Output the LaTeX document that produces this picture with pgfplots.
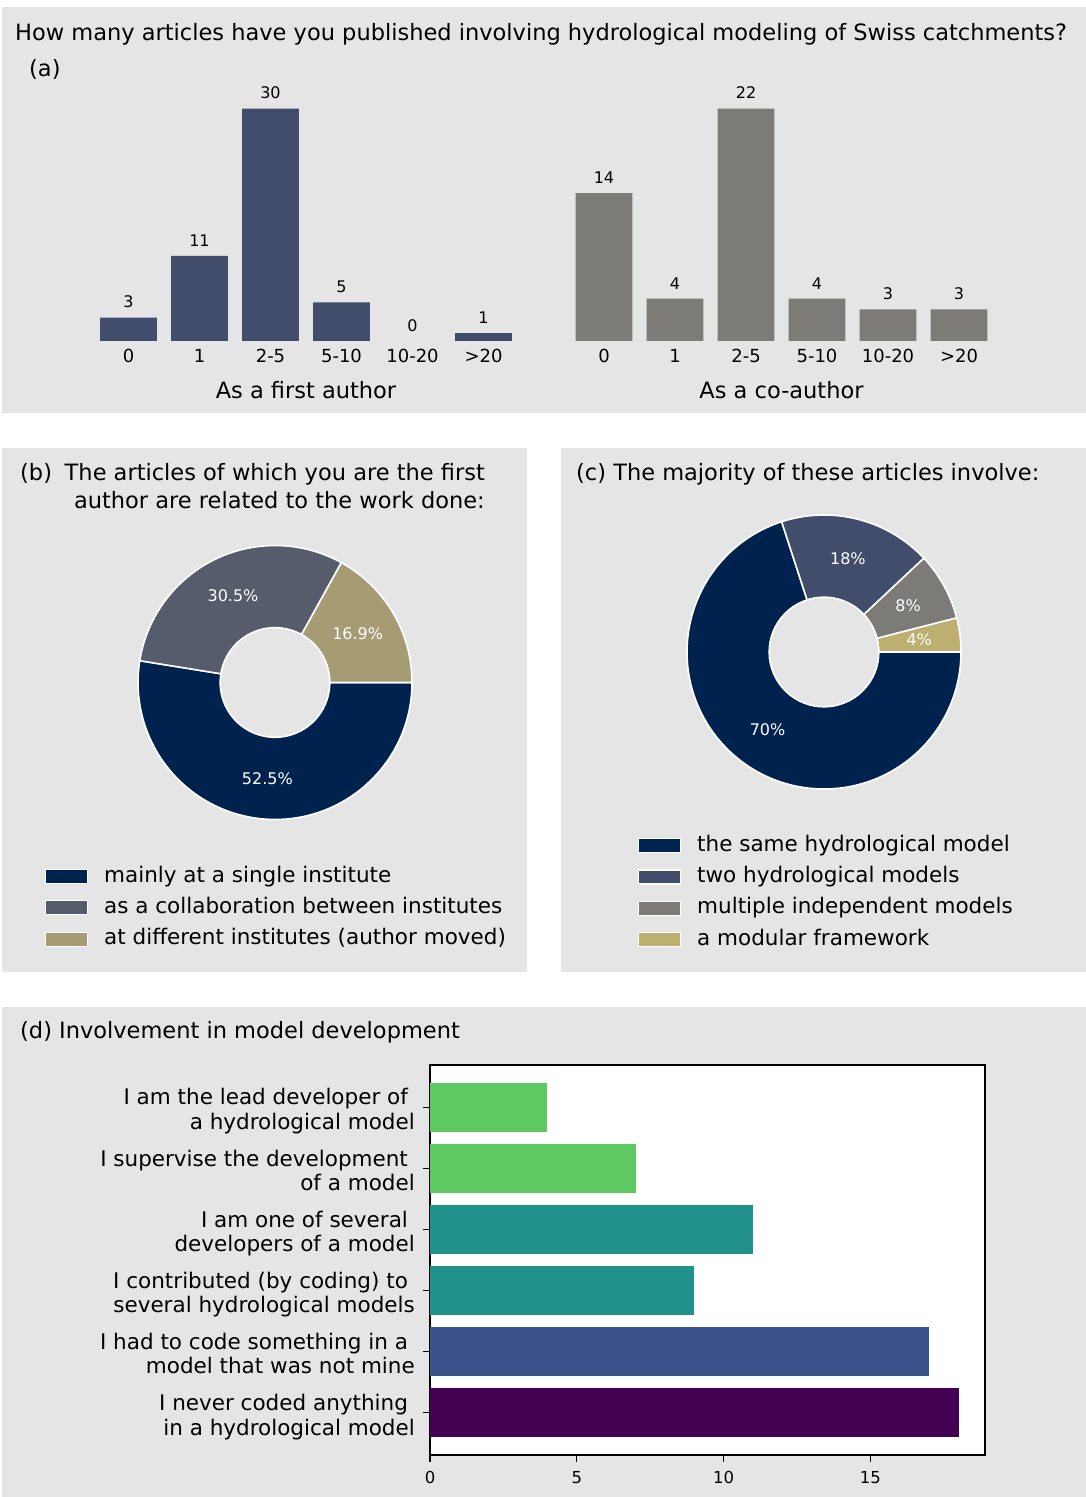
\documentclass[border=0pt]{standalone}
\usepackage{fontspec}
\setmainfont{DejaVu Sans}
\usepackage{pgfplots}
\usepackage{pgfplotstable}
\pgfplotsset{compat=1.18}
\pgfkeys{/pgf/number format/assume math mode=true}

\definecolor{bg}{HTML}{E5E5E5}
\definecolor{cnavy}{HTML}{00224E}
\definecolor{cslate}{HTML}{414D6B}
\definecolor{cgray}{HTML}{7C7B78}
\definecolor{ckhaki}{HTML}{BCAF6F}
\definecolor{bslate}{HTML}{575C6D}
\definecolor{btan}{HTML}{A59C74}
\definecolor{vgreen}{HTML}{5EC962}
\definecolor{vteal}{HTML}{21918C}
\definecolor{vblue}{HTML}{3B528B}
\definecolor{vpurple}{HTML}{440154}

\newcommand\fT{\fontsize{22.5}{27}\selectfont}
\newcommand\fL{\fontsize{21.5}{24.5}\selectfont}
\newcommand\fTick{\fontsize{18}{21}\selectfont}
\newcommand\fVal{\fontsize{16}{19}\selectfont}
\newcommand\fPct{\fontsize{16}{19}\selectfont}
\newcommand\fSm{\fontsize{16.5}{19}\selectfont}

% (a) number of articles
\pgfplotstableread{
bin first co
0 3 14
1 11 4
2 30 22
3 5 4
4 0 3
5 1 3
}\tabA

% (b) first-author articles (counts)
\pgfplotstableread{
part count
0 31
1 18
2 10
}\tabB

% (c) majority of articles involve (percent)
\pgfplotstableread{
part pct
0 70
1 18
2 8
3 4
}\tabC

% angles for (b)
\pgfplotstablegetelem{0}{count}\of\tabB\edef\nBa{\pgfplotsretval}
\pgfplotstablegetelem{1}{count}\of\tabB\edef\nBb{\pgfplotsretval}
\pgfplotstablegetelem{2}{count}\of\tabB\edef\nBc{\pgfplotsretval}
\pgfmathsetmacro\tB{\nBa+\nBb+\nBc}
\pgfmathsetmacro\aBone{-\nBa/\tB*360}
\pgfmathsetmacro\aBtwo{-(\nBa+\nBb)/\tB*360}
\pgfmathsetmacro\mBone{\aBone/2}
\pgfmathsetmacro\mBtwo{(\aBone+\aBtwo)/2}
\pgfmathsetmacro\mBthree{(\aBtwo-360)/2}

% angles for (c)
\pgfplotstablegetelem{0}{pct}\of\tabC\edef\nCa{\pgfplotsretval}
\pgfplotstablegetelem{1}{pct}\of\tabC\edef\nCb{\pgfplotsretval}
\pgfplotstablegetelem{2}{pct}\of\tabC\edef\nCc{\pgfplotsretval}
\pgfplotstablegetelem{3}{pct}\of\tabC\edef\nCd{\pgfplotsretval}
\pgfmathsetmacro\tC{\nCa+\nCb+\nCc+\nCd}
\pgfmathsetmacro\aCone{-\nCa/\tC*360}
\pgfmathsetmacro\aCtwo{-(\nCa+\nCb)/\tC*360}
\pgfmathsetmacro\aCthree{-(\nCa+\nCb+\nCc)/\tC*360}
\pgfmathsetmacro\mCone{\aCone/2}
\pgfmathsetmacro\mCtwo{(\aCone+\aCtwo)/2}
\pgfmathsetmacro\mCthree{(\aCtwo+\aCthree)/2}
\pgfmathsetmacro\mCfour{(\aCthree-360)/2}

\newcommand\donutpiece[4]{%
  \filldraw[fill=#4, draw=white, line width=1.6pt, line join=round]
    ([shift={(#2:137pt)}]#1) arc[start angle=#2, end angle=#3, radius=137pt]
    -- ([shift={(#3:54.8pt)}]#1) arc[start angle=#3, end angle=#2, radius=54.8pt] -- cycle;}

\pgfplotsset{
  barsA/.style={scale only axis, width=453pt, height=244pt, anchor=south west,
    xmin=-0.69, xmax=5.69, ymin=0, clip=false,
    axis line style={draw=none}, major tick length=0pt, ytick=\empty,
    xtick={0,...,5}, xticklabels={0,1,2-5,5-10,10-20,>20},
    xticklabel style={font=\fTick, anchor=base, inner sep=0pt, yshift=-22pt},
    xlabel style={at={(axis description cs:0.5,0)}, anchor=base, inner sep=0pt, yshift=-58pt, font=\fT},
  },
  vallabels/.style={draw=none, mark=none, nodes near coords,
    every node near coord/.append style={font=\fVal, inner sep=0pt, anchor=south, yshift=9.5pt}},
  pieax/.style={scale only axis, width=274pt, height=274pt, anchor=center,
    xmin=-1, xmax=1, ymin=-1, ymax=1, hide axis, clip=false,
    legend cell align=left,
    legend image code/.code={\path (0pt,0pt) (58pt,0pt); \filldraw[##1] (0pt,-7pt) rectangle (42pt,7pt);},
  },
  dbar/.style={xbar, bar width=0.8, bar shift=0pt, draw=none},
}

\begin{document}
\begin{tikzpicture}[x=1pt,y=1pt]
\useasboundingbox (0,0) rectangle (1086,1497);
\fill[white] (0,0) rectangle (1086,1497);
\fill[bg] (2,1084) rectangle (1086,1490);
\fill[bg] (2,525) rectangle (527,1049);
\fill[bg] (561,525) rectangle (1086,1049);
\fill[bg] (2,0) rectangle (1086,490);

% ---------- (a) ----------
\node[anchor=base west, inner sep=0pt, font=\fT] at (15,1456) {How many articles have you published involving hydrological modeling of Swiss catchments?};
\node[anchor=base west, inner sep=0pt, font=\fT] at (29,1420) {(a)};

\begin{axis}[barsA, at={(79.5pt,1156pt)}, ymax=31.5, xlabel={As a first author}]
\addplot[ybar, bar width=0.8, bar shift=0pt, fill=cslate, draw=none, restrict y to domain=0.5:1000] table[x=bin, y=first] {\tabA};
\addplot[vallabels] table[x=bin, y=first] {\tabA};
\end{axis}

\begin{axis}[barsA, at={(555pt,1156pt)}, ymax=23.1, xlabel={As a co-author}]
\addplot[ybar, bar width=0.8, bar shift=0pt, fill=cgray, draw=none, restrict y to domain=0.5:1000] table[x=bin, y=co] {\tabA};
\addplot[vallabels] table[x=bin, y=co] {\tabA};
\end{axis}

% ---------- (b) ----------
\node[anchor=base west, inner sep=0pt, font=\fT] at (20,1016) {(b)};
\node[anchor=base east, inner sep=0pt, font=\fT] at (485,1016) {The articles of which you are the first};
\node[anchor=base east, inner sep=0pt, font=\fT] at (485,988.3) {author are related to the work done:};

\begin{axis}[pieax, at={(275pt,814.5pt)},
  legend style={at={(axis description cs:-0.3394,-0.3223)}, anchor=west, draw=none, fill=none,
    inner sep=0pt, outer sep=0pt, font=\fL, row sep=10.3pt,
    nodes={inner sep=0pt, text height=16pt, text depth=5pt}}]
\path (axis cs:0,0) coordinate (cb);
\donutpiece{cb}{0}{\aBone}{cnavy}
\donutpiece{cb}{\aBone}{\aBtwo}{bslate}
\donutpiece{cb}{\aBtwo}{-360}{btan}
\node[text=white, font=\fPct] at ([shift={(\mBone:96pt)}]cb) {52.5\%};
\node[text=white, font=\fPct] at ([shift={(\mBtwo:96pt)}]cb) {30.5\%};
\node[text=white, font=\fPct] at ([shift={(\mBthree:96pt)}]cb) {16.9\%};
\addlegendimage{fill=cnavy, draw=white, line width=1.2pt}
\addlegendentry{mainly at a single institute}
\addlegendimage{fill=bslate, draw=white, line width=1.2pt}
\addlegendentry{as a collaboration between institutes}
\addlegendimage{fill=btan, draw=white, line width=1.2pt}
\addlegendentry{at different institutes (author moved)}
\end{axis}

% ---------- (c) ----------
\node[anchor=base west, inner sep=0pt, font=\fT] at (576,1016) {(c) The majority of these articles involve:};

\begin{axis}[pieax, at={(824pt,845pt)},
  legend style={at={(axis description cs:-0.1788,-0.378)}, anchor=west, draw=none, fill=none,
    inner sep=0pt, outer sep=0pt, font=\fL, row sep=10.3pt,
    nodes={inner sep=0pt, text height=16pt, text depth=5pt}}]
\path (axis cs:0,0) coordinate (cc);
\donutpiece{cc}{0}{\aCone}{cnavy}
\donutpiece{cc}{\aCone}{\aCtwo}{cslate}
\donutpiece{cc}{\aCtwo}{\aCthree}{cgray}
\donutpiece{cc}{\aCthree}{-360}{ckhaki}
\node[text=white, font=\fPct] at ([shift={(\mCone:96pt)}]cc) {70\%};
\node[text=white, font=\fPct] at ([shift={(\mCtwo:96pt)}]cc) {18\%};
\node[text=white, font=\fPct] at ([shift={(\mCthree:96pt)}]cc) {8\%};
\node[text=white, font=\fPct] at ([shift={(\mCfour:96pt)}]cc) {4\%};
\addlegendimage{fill=cnavy, draw=white, line width=1.2pt}
\addlegendentry{the same hydrological model}
\addlegendimage{fill=cslate, draw=white, line width=1.2pt}
\addlegendentry{two hydrological models}
\addlegendimage{fill=cgray, draw=white, line width=1.2pt}
\addlegendentry{multiple independent models}
\addlegendimage{fill=ckhaki, draw=white, line width=1.2pt}
\addlegendentry{a modular framework}
\end{axis}

% ---------- (d) ----------
\node[anchor=base west, inner sep=0pt, font=\fT] at (20,458) {(d) Involvement in model development};

\begin{axis}[at={(430pt,42pt)}, anchor=south west, scale only axis, width=555pt, height=390pt,
  xmin=0, xmax=18.9, ymin=-0.69, ymax=5.69,
  axis background/.style={fill=white},
  axis line style={black, line width=1.3pt},
  xtick={0,5,10,15}, ytick={0,...,5},
  yticklabels={
    {I never coded anything\rule{0.32em}{0pt}\\in a hydrological model},
    {I had to code something in a\rule{0.32em}{0pt}\\model that was not mine},
    {I contributed (by coding) to\rule{0.32em}{0pt}\\several hydrological models},
    {I am one of several\rule{0.32em}{0pt}\\developers of a model},
    {I supervise the development\rule{0.32em}{0pt}\\of a model},
    {I am the lead developer of\rule{0.32em}{0pt}\\a hydrological model}},
  tick align=outside, xtick pos=left, ytick pos=left,
  major tick length=7pt,
  every tick/.style={black, line width=1.3pt},
  xticklabel style={font=\fSm, anchor=base, inner sep=0pt, yshift=-21.5pt},
  yticklabel style={font=\fL, align=right, anchor=east, inner sep=0pt, text depth=5pt, xshift=-8pt, yshift=-4.3pt},
]
\addplot[dbar, fill=vpurple] coordinates {(18,0)};
\addplot[dbar, fill=vblue] coordinates {(17,1)};
\addplot[dbar, fill=vteal] coordinates {(9,2)};
\addplot[dbar, fill=vteal] coordinates {(11,3)};
\addplot[dbar, fill=vgreen] coordinates {(7,4)};
\addplot[dbar, fill=vgreen] coordinates {(4,5)};
\end{axis}
\end{tikzpicture}
\end{document}
